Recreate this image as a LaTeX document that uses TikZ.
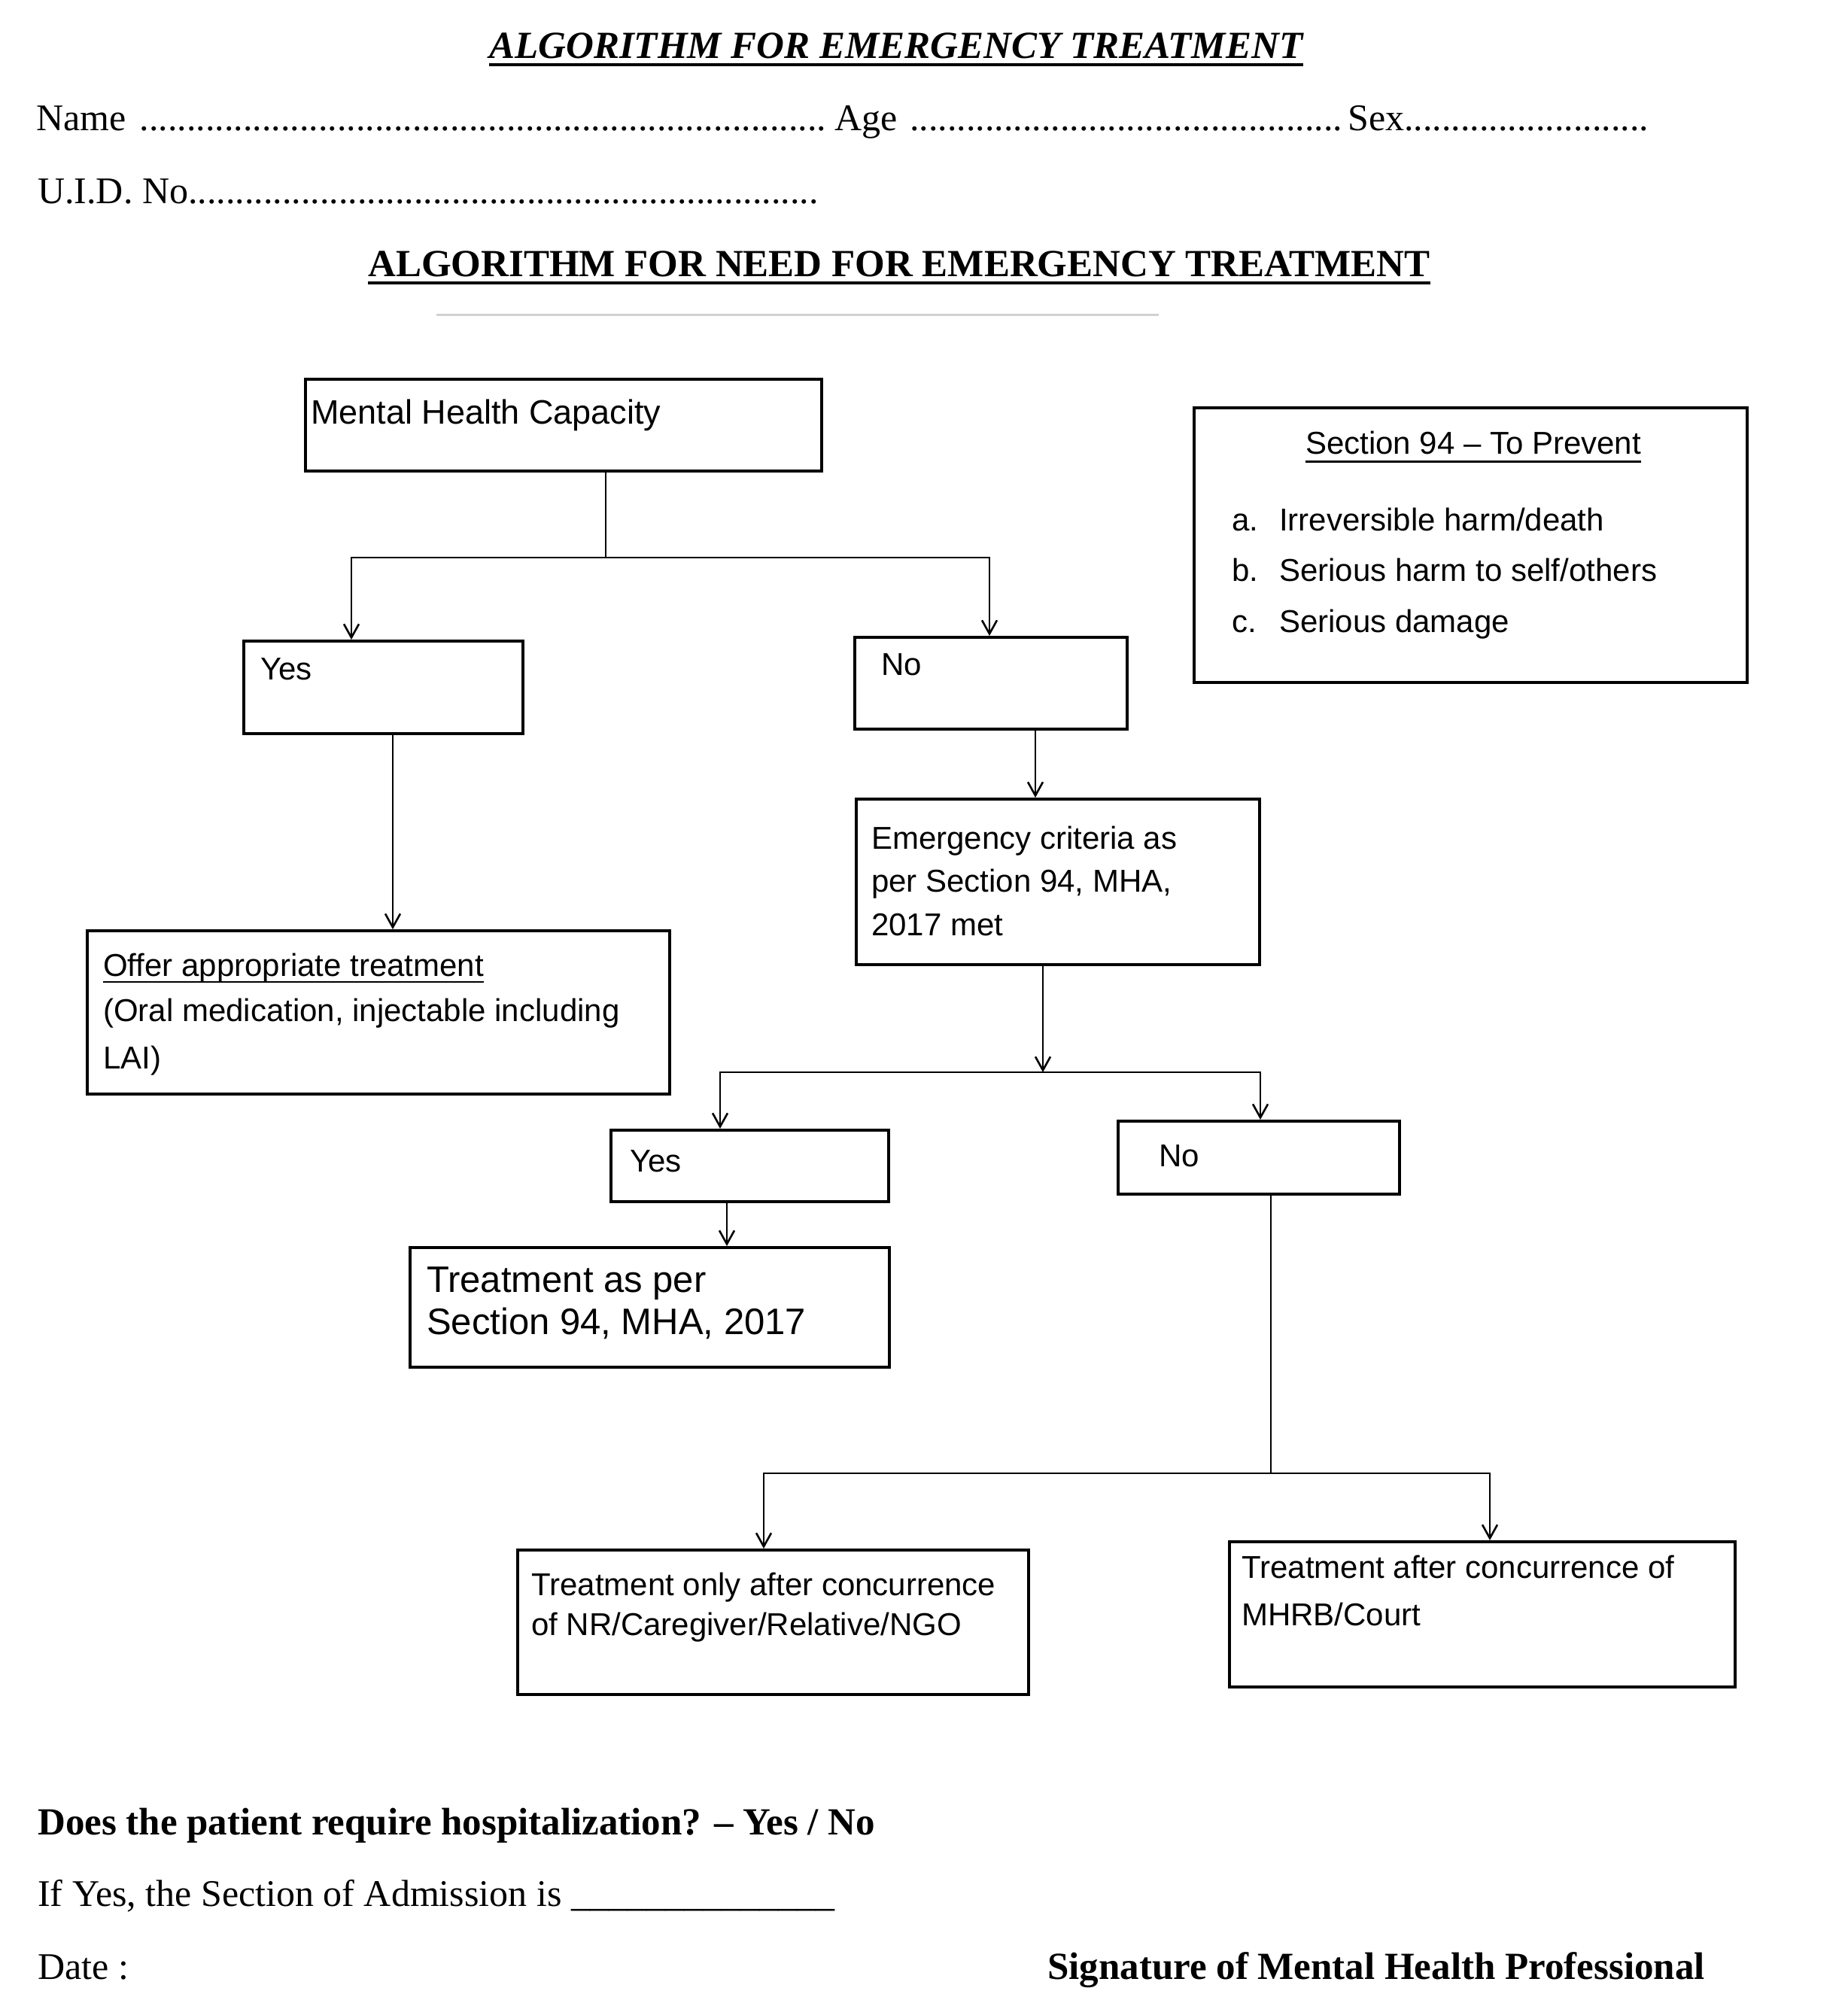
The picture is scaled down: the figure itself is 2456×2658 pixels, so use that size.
\documentclass[tikz,border=0pt]{standalone}
\usepackage{fontspec}
\setmainfont{Liberation Serif}
\newfontfamily\arialf{Liberation Sans}
\usetikzlibrary{arrows.meta}
\begin{document}
\begin{tikzpicture}[x=1pt,y=-1pt,
  box/.style={draw=black, line width=4pt, rectangle, inner sep=0pt, anchor=north west},
  conn/.style={line width=2.6pt},
  arr/.style={conn, -{Straight Barb[length=18pt,width=20pt,line width=2.6pt]}},
  serif/.style={font=\fontsize{50}{60}\selectfont, anchor=base west, inner sep=0pt},
  serifb/.style={font=\fontsize{51}{60}\selectfont\bfseries, anchor=base west, inner sep=0pt},
  sans/.style={font=\arialf\fontsize{42}{50}\selectfont, anchor=base west, inner sep=0pt},
  uline/.style={line width=3pt}
]
\fill[white] (0,0) rectangle (2456,2658);
\useasboundingbox (0,0) rectangle (2456,2658);

% ---------- header ----------
\node[serif, font=\fontsize{51}{60}\selectfont\bfseries\itshape] (t1) at (650,77) {ALGORITHM FOR EMERGENCY TREATMENT};
\draw[line width=4pt] ([yshift=-9pt]t1.base west) -- ([yshift=-9pt]t1.base east);
\node[serif] (name) at (48,173) {\makebox[1061pt][l]{Name \leaders\hbox{.}\hfill}};
\node[serif] (age) at (1109,173) {\makebox[682pt][l]{Age \leaders\hbox{.}\hfill}};
\node[serif] (sex) at (1791,173) {\makebox[405pt][l]{Sex\leaders\hbox{.}\hfill}};
\node[serif] (uid) at (50,270) {\makebox[1040pt][l]{U.I.D. No\leaders\hbox{.}\hfill}};
\node[serifb] (t2) at (489,367) {ALGORITHM FOR NEED FOR EMERGENCY TREATMENT};
\draw[line width=4pt] ([yshift=-9pt]t2.base west) -- ([yshift=-9pt]t2.base east);
\draw[black!18, line width=3pt] (580,418) -- (1540,418);

% ---------- boxes ----------
\node[box, minimum width=686pt, minimum height=122pt] (mhc) at (404,502) {};
\node[box, minimum width=735pt, minimum height=365pt] (sec) at (1585,540) {};
\node[box, minimum width=371pt, minimum height=123pt] (yes1) at (322,850) {};
\node[box, minimum width=362pt, minimum height=122pt] (no1) at (1134,845) {};
\node[box, minimum width=774pt, minimum height=217pt] (offer) at (114,1235) {};
\node[box, minimum width=536pt, minimum height=220pt] (emerg) at (1136,1060) {};
\node[box, minimum width=369pt, minimum height=95pt] (yes2) at (810,1500) {};
\node[box, minimum width=374pt, minimum height=97pt] (no2) at (1484,1488) {};
\node[box, minimum width=637pt, minimum height=159pt] (treat) at (543,1656) {};
\node[box, minimum width=679pt, minimum height=192pt] (left3) at (686,2058) {};
\node[box, minimum width=672pt, minimum height=193pt] (right3) at (1632,2047) {};

% ---------- box texts ----------
\node[sans, font=\arialf\fontsize{45}{54}\selectfont] (mhct) at (413,563) {Mental Health Capacity};

\node[sans, anchor=base] (sect) at (1958,603) {Section 94 – To Prevent};
\draw[uline] ([yshift=-10pt]sect.base west) -- ([yshift=-10pt]sect.base east);
\node[sans] (seca) at (1637,705) {\makebox[63pt][l]{a.}Irreversible harm/death};
\node[sans] (secb) at (1637,772) {\makebox[63pt][l]{b.}Serious harm to self/others};
\node[sans] (secc) at (1637,840) {\makebox[63pt][l]{c.}Serious damage};

\node[sans] (yes1t) at (346,903) {Yes};
\node[sans] (no1t) at (1171,897) {No};

\node[sans] (offer1) at (137,1297) {Offer appropriate treatment};
\draw[line width=2pt] ([yshift=-8pt]offer1.base west) -- ([yshift=-8pt]offer1.base east);
\node[sans] (offer2) at (137,1357) {(Oral medication, injectable including};
\node[sans] (offer3) at (137,1420) {LAI)};

\node[sans] (em1) at (1158,1128) {Emergency criteria as};
\node[sans] (em2) at (1158,1185) {per Section 94, MHA,};
\node[sans] (em3) at (1158,1243) {2017 met};

\node[sans] (yes2t) at (837,1557) {Yes};
\node[sans] (no2t) at (1540,1550) {No};

\node[sans, font=\arialf\fontsize{49}{56}\selectfont] (tr1) at (567,1717) {Treatment as per};
\node[sans, font=\arialf\fontsize{49}{56}\selectfont] (tr2) at (567,1773) {Section 94, MHA, 2017};

\node[sans] (l31) at (706,2120) {Treatment only after concurrence};
\node[sans] (l32) at (706,2173) {of NR/Caregiver/Relative/NGO};
\node[sans] (r31) at (1650,2097) {Treatment after concurrence of};
\node[sans] (r32) at (1650,2160) {MHRB/Court};

% ---------- connectors ----------
\coordinate (j1) at (805,741);
\coordinate (j1a) at (467,741);
\coordinate (j1b) at (1315,741);
\draw[conn] (mhc.south -| j1) -- (j1);
\draw[arr] (j1) -- (j1a) -- (j1a |- yes1.north);
\draw[arr] (j1) -- (j1b) -- (j1b |- no1.north);

\coordinate (c2) at (522,0);
\draw[arr] (yes1.south -| c2) -- (offer.north -| c2);
\coordinate (c3) at (1376,0);
\draw[arr] (no1.south -| c3) -- (emerg.north -| c3);

\coordinate (j2) at (1386,1425);
\coordinate (j2a) at (957,1425);
\coordinate (j2b) at (1675,1425);
\draw[arr] (emerg.south -| j2) -- (j2);
\draw[arr] (j2) -- (j2a) -- (j2a |- yes2.north);
\draw[arr] (j2) -- (j2b) -- (j2b |- no2.north);

\coordinate (c4) at (966,0);
\draw[arr] (yes2.south -| c4) -- (treat.north -| c4);

\coordinate (j3) at (1689,1958);
\coordinate (j3a) at (1015,1958);
\coordinate (j3b) at (1980,1958);
\draw[conn] (no2.south -| j3) -- (j3);
\draw[arr] (j3) -- (j3a) -- (j3a |- left3.north);
\draw[arr] (j3) -- (j3b) -- (j3b |- right3.north);

% ---------- footer ----------
\node[serifb] (q1) at (50,2438) {Does the patient require hospitalization? – Yes / No};
\node[serif] (q2) at (50,2533) {If Yes, the Section of Admission is \_\_\_\_\_\_\_\_\_\_\_\_\_\_};
\node[serif] (date) at (50,2630) {Date :};
\node[serifb] (sig) at (1392,2630) {Signature of Mental Health Professional};
\end{tikzpicture}
\end{document}
